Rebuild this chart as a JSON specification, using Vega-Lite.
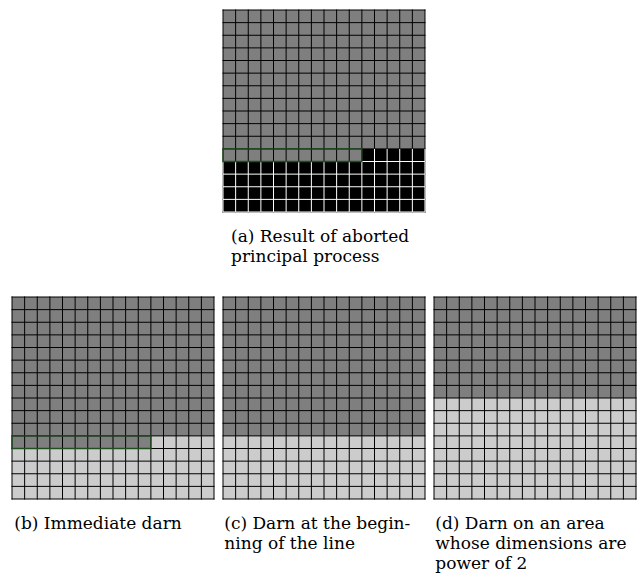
{
  "$schema": "https://vega.github.io/schema/vega-lite/v6.json",
  "padding": {"left": 11, "top": 9, "right": 5, "bottom": 80},
  "autosize": {"type": "pad"},
  "background": "white",
  "config": {
    "view": {"stroke": null},
    "title": {"font": "DejaVu Serif", "fontSize": 17, "fontWeight": "normal", "color": "#000000", "orient": "bottom", "anchor": "start", "lineHeight": 20, "offset": 16, "baseline": "top"}
  },
  "datasets": {
    "regions": [
      {"panel": "a", "x1": 0, "x2": 16, "y1": 0, "y2": 11, "state": "remaining"},
      {"panel": "a", "x1": 0, "x2": 11, "y1": 11, "y2": 12, "state": "remaining"},
      {"panel": "a", "x1": 11, "x2": 16, "y1": 11, "y2": 12, "state": "aborted"},
      {"panel": "a", "x1": 0, "x2": 16, "y1": 12, "y2": 16, "state": "aborted"},
      {"panel": "b", "x1": 0, "x2": 16, "y1": 0, "y2": 11, "state": "remaining"},
      {"panel": "b", "x1": 0, "x2": 11, "y1": 11, "y2": 12, "state": "remaining"},
      {"panel": "b", "x1": 11, "x2": 16, "y1": 11, "y2": 12, "state": "darned"},
      {"panel": "b", "x1": 0, "x2": 16, "y1": 12, "y2": 16, "state": "darned"},
      {"panel": "c", "x1": 0, "x2": 16, "y1": 0, "y2": 11, "state": "remaining"},
      {"panel": "c", "x1": 0, "x2": 16, "y1": 11, "y2": 16, "state": "darned"},
      {"panel": "d", "x1": 0, "x2": 16, "y1": 0, "y2": 8, "state": "remaining"},
      {"panel": "d", "x1": 0, "x2": 16, "y1": 8, "y2": 16, "state": "darned"}
    ],
    "grid": [
      {"x1": 0, "x2": 0, "y1": 0, "y2": 16}, {"x1": 1, "x2": 1, "y1": 0, "y2": 16}, {"x1": 2, "x2": 2, "y1": 0, "y2": 16},
      {"x1": 3, "x2": 3, "y1": 0, "y2": 16}, {"x1": 4, "x2": 4, "y1": 0, "y2": 16}, {"x1": 5, "x2": 5, "y1": 0, "y2": 16},
      {"x1": 6, "x2": 6, "y1": 0, "y2": 16}, {"x1": 7, "x2": 7, "y1": 0, "y2": 16}, {"x1": 8, "x2": 8, "y1": 0, "y2": 16},
      {"x1": 9, "x2": 9, "y1": 0, "y2": 16}, {"x1": 10, "x2": 10, "y1": 0, "y2": 16}, {"x1": 11, "x2": 11, "y1": 0, "y2": 16},
      {"x1": 12, "x2": 12, "y1": 0, "y2": 16}, {"x1": 13, "x2": 13, "y1": 0, "y2": 16}, {"x1": 14, "x2": 14, "y1": 0, "y2": 16},
      {"x1": 15, "x2": 15, "y1": 0, "y2": 16}, {"x1": 16, "x2": 16, "y1": 0, "y2": 16},
      {"x1": 0, "x2": 16, "y1": 0, "y2": 0}, {"x1": 0, "x2": 16, "y1": 1, "y2": 1}, {"x1": 0, "x2": 16, "y1": 2, "y2": 2},
      {"x1": 0, "x2": 16, "y1": 3, "y2": 3}, {"x1": 0, "x2": 16, "y1": 4, "y2": 4}, {"x1": 0, "x2": 16, "y1": 5, "y2": 5},
      {"x1": 0, "x2": 16, "y1": 6, "y2": 6}, {"x1": 0, "x2": 16, "y1": 7, "y2": 7}, {"x1": 0, "x2": 16, "y1": 8, "y2": 8},
      {"x1": 0, "x2": 16, "y1": 9, "y2": 9}, {"x1": 0, "x2": 16, "y1": 10, "y2": 10}, {"x1": 0, "x2": 16, "y1": 11, "y2": 11},
      {"x1": 0, "x2": 16, "y1": 12, "y2": 12}, {"x1": 0, "x2": 16, "y1": 13, "y2": 13}, {"x1": 0, "x2": 16, "y1": 14, "y2": 14},
      {"x1": 0, "x2": 16, "y1": 15, "y2": 15}, {"x1": 0, "x2": 16, "y1": 16, "y2": 16}
    ],
    "abortedGrid": [
      {"x1": 0, "x2": 0, "y1": 12, "y2": 16}, {"x1": 1, "x2": 1, "y1": 12, "y2": 16}, {"x1": 2, "x2": 2, "y1": 12, "y2": 16},
      {"x1": 3, "x2": 3, "y1": 12, "y2": 16}, {"x1": 4, "x2": 4, "y1": 12, "y2": 16}, {"x1": 5, "x2": 5, "y1": 12, "y2": 16},
      {"x1": 6, "x2": 6, "y1": 12, "y2": 16}, {"x1": 7, "x2": 7, "y1": 12, "y2": 16}, {"x1": 8, "x2": 8, "y1": 12, "y2": 16},
      {"x1": 9, "x2": 9, "y1": 12, "y2": 16}, {"x1": 10, "x2": 10, "y1": 12, "y2": 16}, {"x1": 11, "x2": 11, "y1": 12, "y2": 16},
      {"x1": 12, "x2": 12, "y1": 11, "y2": 16}, {"x1": 13, "x2": 13, "y1": 11, "y2": 16}, {"x1": 14, "x2": 14, "y1": 11, "y2": 16},
      {"x1": 15, "x2": 15, "y1": 11, "y2": 16}, {"x1": 16, "x2": 16, "y1": 11, "y2": 16},
      {"x1": 0, "x2": 16, "y1": 12, "y2": 12}, {"x1": 0, "x2": 16, "y1": 13, "y2": 13}, {"x1": 0, "x2": 16, "y1": 14, "y2": 14},
      {"x1": 0, "x2": 16, "y1": 15, "y2": 15}, {"x1": 0, "x2": 16, "y1": 16, "y2": 16}
    ],
    "highlight": [
      {"x1": 0, "x2": 11, "y1": 11, "y2": 12}
    ]
  },
  "bounds": "flush",
  "spacing": 85,
  "vconcat": [
    {
      "width": 624, "height": 202,
      "title": {"text": ["(a) Result of aborted", "principal process"], "dx": 219},
      "layer": [
        {"data": {"name": "regions"}, "transform": [{"filter": "datum.panel === 'a'"}],
         "mark": {"type": "rect"},
         "encoding": {
           "x": {"field": "x1", "type": "quantitative", "scale": {"domain": [-16.713, 32.713], "nice": false, "zero": false}, "axis": null},
           "x2": {"field": "x2"},
           "y": {"field": "y1", "type": "quantitative", "scale": {"domain": [0, 16], "nice": false, "zero": false, "reverse": true}, "axis": null},
           "y2": {"field": "y2"},
           "fill": {"field": "state", "type": "nominal", "scale": {"domain": ["remaining", "darned", "aborted"], "range": ["#7f7f7f", "#cccccc", "#000000"]}, "legend": null}
         }},
        {"data": {"name": "grid"}, "mark": {"type": "rule", "color": "#000000", "strokeWidth": 1, "strokeCap": "square"},
         "encoding": {"x": {"field": "x1", "type": "quantitative"}, "x2": {"field": "x2"}, "y": {"field": "y1", "type": "quantitative"}, "y2": {"field": "y2"}}},
        {"data": {"name": "abortedGrid"}, "mark": {"type": "rule", "color": "#ffffff", "strokeWidth": 1},
         "encoding": {"x": {"field": "x1", "type": "quantitative"}, "x2": {"field": "x2"}, "y": {"field": "y1", "type": "quantitative"}, "y2": {"field": "y2"}}},
        {"data": {"name": "highlight"}, "mark": {"type": "rect", "fill": null, "fillOpacity": 0, "stroke": "#1f4f1f", "strokeWidth": 1.3},
         "encoding": {"x": {"field": "x1", "type": "quantitative"}, "x2": {"field": "x2"}, "y": {"field": "y1", "type": "quantitative"}, "y2": {"field": "y2"}}}
      ]
    },
    {
      "bounds": "flush",
      "spacing": 9,
      "hconcat": [
        {
          "width": 202, "height": 202,
          "title": {"text": ["(b) Immediate darn"], "dx": 3},
          "layer": [
            {"data": {"name": "regions"}, "transform": [{"filter": "datum.panel === 'b'"}],
             "mark": {"type": "rect"},
             "encoding": {
               "x": {"field": "x1", "type": "quantitative", "scale": {"domain": [0, 16], "nice": false, "zero": false}, "axis": null},
               "x2": {"field": "x2"},
               "y": {"field": "y1", "type": "quantitative", "scale": {"domain": [0, 16], "nice": false, "zero": false, "reverse": true}, "axis": null},
               "y2": {"field": "y2"},
               "fill": {"field": "state", "type": "nominal", "scale": {"domain": ["remaining", "darned", "aborted"], "range": ["#7f7f7f", "#cccccc", "#000000"]}, "legend": null}
             }},
            {"data": {"name": "grid"}, "mark": {"type": "rule", "color": "#000000", "strokeWidth": 1, "strokeCap": "square"},
             "encoding": {"x": {"field": "x1", "type": "quantitative"}, "x2": {"field": "x2"}, "y": {"field": "y1", "type": "quantitative"}, "y2": {"field": "y2"}}},
            {"data": {"name": "highlight"}, "mark": {"type": "rect", "fill": null, "fillOpacity": 0, "stroke": "#1f4f1f", "strokeWidth": 1.3},
             "encoding": {"x": {"field": "x1", "type": "quantitative"}, "x2": {"field": "x2"}, "y": {"field": "y1", "type": "quantitative"}, "y2": {"field": "y2"}}}
          ]
        },
        {
          "width": 202, "height": 202,
          "title": {"text": ["(c) Darn at the begin-", "ning of the line"], "dx": 2},
          "layer": [
            {"data": {"name": "regions"}, "transform": [{"filter": "datum.panel === 'c'"}],
             "mark": {"type": "rect"},
             "encoding": {
               "x": {"field": "x1", "type": "quantitative", "scale": {"domain": [0, 16], "nice": false, "zero": false}, "axis": null},
               "x2": {"field": "x2"},
               "y": {"field": "y1", "type": "quantitative", "scale": {"domain": [0, 16], "nice": false, "zero": false, "reverse": true}, "axis": null},
               "y2": {"field": "y2"},
               "fill": {"field": "state", "type": "nominal", "scale": {"domain": ["remaining", "darned", "aborted"], "range": ["#7f7f7f", "#cccccc", "#000000"]}, "legend": null}
             }},
            {"data": {"name": "grid"}, "mark": {"type": "rule", "color": "#000000", "strokeWidth": 1, "strokeCap": "square"},
             "encoding": {"x": {"field": "x1", "type": "quantitative"}, "x2": {"field": "x2"}, "y": {"field": "y1", "type": "quantitative"}, "y2": {"field": "y2"}}}
          ]
        },
        {
          "width": 202, "height": 202,
          "title": {"text": ["(d) Darn on an area", "whose dimensions are", "power of 2"], "dx": 2},
          "layer": [
            {"data": {"name": "regions"}, "transform": [{"filter": "datum.panel === 'd'"}],
             "mark": {"type": "rect"},
             "encoding": {
               "x": {"field": "x1", "type": "quantitative", "scale": {"domain": [0, 16], "nice": false, "zero": false}, "axis": null},
               "x2": {"field": "x2"},
               "y": {"field": "y1", "type": "quantitative", "scale": {"domain": [0, 16], "nice": false, "zero": false, "reverse": true}, "axis": null},
               "y2": {"field": "y2"},
               "fill": {"field": "state", "type": "nominal", "scale": {"domain": ["remaining", "darned", "aborted"], "range": ["#7f7f7f", "#cccccc", "#000000"]}, "legend": null}
             }},
            {"data": {"name": "grid"}, "mark": {"type": "rule", "color": "#000000", "strokeWidth": 1, "strokeCap": "square"},
             "encoding": {"x": {"field": "x1", "type": "quantitative"}, "x2": {"field": "x2"}, "y": {"field": "y1", "type": "quantitative"}, "y2": {"field": "y2"}}}
          ]
        }
      ]
    }
  ]
}
